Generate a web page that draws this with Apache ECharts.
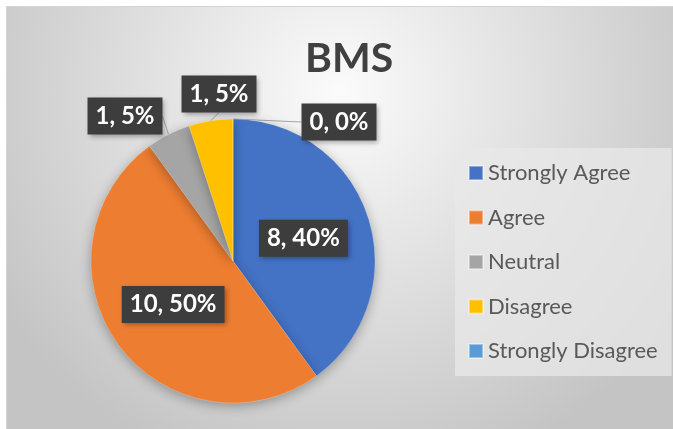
<!DOCTYPE html>
<html>
<head>
<meta charset="utf-8">
<script src="https://cdn.jsdelivr.net/npm/echarts@6/dist/echarts.min.js"></script>
<style>
  html, body { margin: 0; padding: 0; background: #fff; }
  #main {
    position: absolute; left: 6px; top: 6px;
    width: 667px; height: 423px;
    box-sizing: border-box;
    border-top: 1px solid #d4d4d4; border-left: 1px solid #d4d4d4;
  }
</style>
</head>
<body>
<div id="main"></div>
<script>
var categories = ['Strongly Agree', 'Agree', 'Neutral', 'Disagree', 'Strongly Disagree'];
var counts = [8, 10, 1, 1, 0];
var colors = ['#4472C4', '#ED7D31', '#A5A5A5', '#FFC000', '#5B9BD5'];

var chart = echarts.init(document.getElementById('main'));
var font = 'Lato, "Open Sans", sans-serif';

// where the outside labels sit (the inside ones use the default spot)
var labelSpots = { 2: [118, 109], 3: [212, 87], 4: [332, 115] };

var option = {
    backgroundColor: {
        type: 'radial', x: 0.5, y: 0.2, r: 0.95,
        colorStops: [
            { offset: 0, color: '#fbfbfb' },
            { offset: 1, color: '#c4c4c4' }
        ]
    },
    title: {
        text: 'BMS',
        left: 293, top: 26,
        textStyle: { fontFamily: font, fontSize: 41, fontWeight: 'bold', color: '#404040' }
    },
    legend: {
        orient: 'vertical',
        left: 448, top: 141,
        padding: [14, 14, 14, 13],
        backgroundColor: 'rgba(232,232,232,0.75)',
        itemWidth: 14, itemHeight: 14, itemGap: 22.5,
        icon: 'rect',
        textStyle: { fontFamily: font, fontSize: 22, color: '#595959' },
        data: categories
    },
    series: [{
        type: 'pie',
        center: [226, 254],
        radius: 142,
        startAngle: 90,
        clockwise: true,
        avoidLabelOverlap: false,
        itemStyle: {
            borderColor: 'rgba(255,255,255,0.4)', borderWidth: 0.5,
            shadowBlur: 12, shadowColor: 'rgba(0,0,0,0.3)', shadowOffsetY: 3
        },
        label: {
            formatter: function (p) { return p.value + ', ' + Math.round(p.percent) + '%'; },
            fontFamily: font, fontSize: 24, fontWeight: 'bold', color: '#fff',
            backgroundColor: '#3d3d3d',
            padding: [7, 8, 6, 8],
            shadowBlur: 5, shadowOffsetX: 2, shadowOffsetY: 2, shadowColor: 'rgba(0,0,0,0.35)'
        },
        labelLine: { show: true, length: 8, length2: 0, lineStyle: { color: '#a6a6a6', width: 1 } },
        labelLayout: function (p) {
            var s = labelSpots[p.dataIndex];
            if (!s) return {};
            return { x: s[0], y: s[1], align: 'center', verticalAlign: 'middle' };
        },
        data: categories.map(function (c, i) {
            var isInside = i < 2;
            return {
                name: c, value: counts[i],
                itemStyle: { color: colors[i] },
                label: { position: isInside ? 'inside' : 'outside' },
                labelLine: { show: !isInside }
            };
        })
    }]
};

chart.setOption(option);
window.addEventListener('resize', function () { chart.resize(); });
</script>
</body>
</html>
